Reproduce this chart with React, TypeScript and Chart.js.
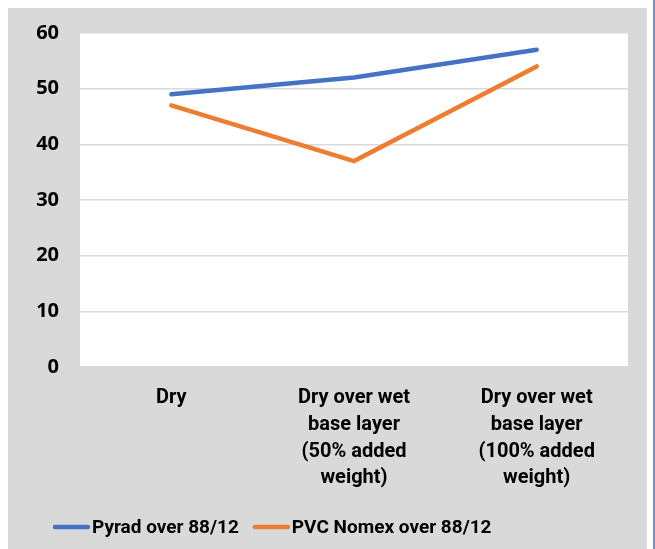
import React, { useEffect, useRef } from "react";
import { Chart, registerables } from "chart.js";

Chart.register(...registerables);

const categories: string[][] = [
  ["Dry"],
  ["Dry over wet", "base layer", "(50% added", "weight)"],
  ["Dry over wet", "base layer", "(100% added", "weight)"],
];
const pyradValues = [49, 52, 57];
const pvcValues = [47, 37, 54];
const seriesNames = ["Pyrad over 88/12", "PVC Nomex over 88/12"];
const yMin = 0;
const yMax = 60;
const yStep = 10;

const FONT = "Roboto, 'Noto Sans', sans-serif";
const NUM_FONT = "'Open Sans', 'Noto Sans', sans-serif";

const bgPlugin = {
  id: "plotBg",
  beforeDraw(chart: any) {
    const { ctx, chartArea } = chart;
    ctx.save();
    ctx.fillStyle = "#ffffff";
    ctx.fillRect(chartArea.left, chartArea.top, chartArea.right - chartArea.left, chartArea.bottom - chartArea.top);
    ctx.restore();
  },
};

const legendPlugin = {
  id: "customLegend",
  afterDraw(chart: any) {
    const { ctx } = chart;
    ctx.save();
    ctx.font = `bold 19px ${FONT}`;
    ctx.textBaseline = "middle";
    ctx.textAlign = "left";
    let x = 45;
    const y = 520;
    chart.data.datasets.forEach((ds: any) => {
      ctx.strokeStyle = ds.borderColor;
      ctx.lineWidth = 4.5;
      ctx.lineCap = "round";
      ctx.beginPath();
      ctx.moveTo(x + 2, y);
      ctx.lineTo(x + 35, y);
      ctx.stroke();
      x += 39;
      ctx.fillStyle = "#000000";
      ctx.fillText(ds.label, x, y + 1);
      x += ctx.measureText(ds.label).width + 14;
    });
    ctx.restore();
  },
};

export default function App() {
  const ref = useRef<HTMLCanvasElement>(null);
  useEffect(() => {
    if (!ref.current) return;
    const chart = new Chart(ref.current, {
      type: "line",
      data: {
        labels: categories,
        datasets: [
          {
            label: seriesNames[0],
            data: pyradValues,
            borderColor: "#4472c4",
            backgroundColor: "#4472c4",
            borderWidth: 4.5,
            pointRadius: 0,
            tension: 0,
            borderCapStyle: "round",
          },
          {
            label: seriesNames[1],
            data: pvcValues,
            borderColor: "#ed7d31",
            backgroundColor: "#ed7d31",
            borderWidth: 4.5,
            pointRadius: 0,
            tension: 0,
            borderCapStyle: "round",
          },
        ],
      },
      options: {
        animation: false,
        responsive: true,
        maintainAspectRatio: false,
        layout: { padding: { top: 26, right: 25, bottom: 0, left: 0 } },
        plugins: {
          legend: { display: false },
          tooltip: { enabled: false },
        },
        scales: {
          x: {
            offset: true,
            grid: { display: false },
            border: { display: false },
            afterFit(scale: any) {
              scale.height = 182;
            },
            ticks: {
              color: "#000000",
              padding: 10,
              maxRotation: 0,
              autoSkip: false,
              font: { family: FONT, size: 20, weight: "bold", lineHeight: 1.33 },
            },
          },
          y: {
            min: yMin,
            max: yMax,
            grid: { color: "#d9d9d9", lineWidth: 1.5, drawTicks: false },
            border: { display: false },
            afterFit(scale: any) {
              scale.width = 72;
              scale.paddingTop = 0;
              scale.paddingBottom = 0;
            },
            ticks: {
              stepSize: yStep,
              color: "#000000",
              padding: 21,
              font: { family: NUM_FONT, size: 20, weight: "bold" },
            },
          },
        },
      },
      plugins: [bgPlugin, legendPlugin],
    });
    return () => chart.destroy();
  }, []);

  return (
    <>
      <div style={{ marginTop: -1, width: 645, height: 542, background: "#d9d9d9", position: "relative" }}>
        <canvas ref={ref} />
      </div>
      <div style={{ position: "fixed", left: 653, top: 0, width: 2, height: 549, background: "#7393c6" }} />
    </>
  );
}
